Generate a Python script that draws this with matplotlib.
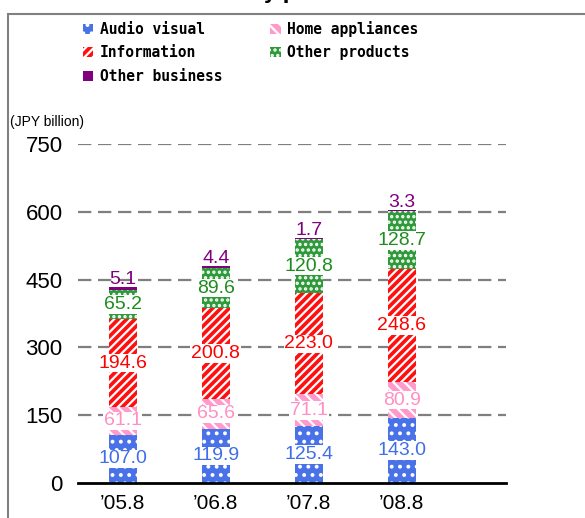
import numpy as np
import matplotlib
matplotlib.use("Agg")
import matplotlib.pyplot as plt
from matplotlib.patches import Rectangle, Patch

# data (JPY billion)
periods = ["\u201905.8", "\u201906.8", "\u201907.8", "\u201908.8"]
audio_visual = [107.0, 119.9, 125.4, 143.0]
home_appliances = [61.1, 65.6, 71.1, 80.9]
information = [194.6, 200.8, 223.0, 248.6]
other_products = [65.2, 89.6, 120.8, 128.7]
other_business = [5.1, 4.4, 1.7, 3.3]
yticks = [0, 150, 300, 450, 600, 750]

series = [
    ("Audio visual", audio_visual, "#4a72e8", "..", "#3f6fe6"),
    ("Home appliances", home_appliances, "#ff9acb", "\\\\\\", "#ff8fc4"),
    ("Information", information, "#ff1010", "////", "#ff0000"),
    ("Other products", other_products, "#2e9a3a", "...", "#1e8c1e"),
    ("Other business", other_business, "#800080", None, "#800080"),
]

plt.rcParams["hatch.linewidth"] = 1.6
W, H = 585, 518
fig = plt.figure(figsize=(W / 100, H / 100), dpi=100)
ax = fig.add_axes([78 / W, (H - 483) / H, (506 - 78) / W, (483 - 144) / H])

x = np.arange(len(periods))
bottom = np.zeros(len(periods))
handles = []
for name, vals, col, hatch, tcol in series:
    vals = np.array(vals)
    ax.bar(x, vals, 0.3, bottom=bottom, color=col, hatch=hatch,
           edgecolor="white" if hatch else col, linewidth=0, zorder=2)
    handles.append(Patch(facecolor=col, hatch=hatch,
                         edgecolor="white" if hatch else col, linewidth=0))
    for i, v in enumerate(vals):
        if name == "Other business":
            ax.text(x[i], bottom[i] + v - 2, f"{v:.1f}", ha="center", va="bottom",
                    color=tcol, fontsize=14, family="Liberation Sans", zorder=4)
        else:
            ax.text(x[i], bottom[i] + v / 2, f"{v:.1f}", ha="center", va="center",
                    color=tcol, fontsize=14, family="Liberation Sans", zorder=4,
                    bbox=dict(facecolor="white", edgecolor="none", pad=0.5))
    bottom = bottom + vals

ax.set_xlim(-0.48, 4.12)
ax.set_ylim(0, 750)
ax.set_yticks(yticks)
ax.set_yticklabels([str(t) for t in yticks], family="Liberation Sans", fontsize=16)
ax.set_xticks(x)
ax.set_xticklabels(periods, family="Liberation Sans", fontsize=15)
ax.tick_params(axis="y", length=0, pad=11)
ax.tick_params(axis="x", length=0, pad=8)
for t in yticks[1:]:
    ax.axhline(t, color="#7f7f7f", lw=1.6, ls=(0, (6, 3)), zorder=1)
for s in ["top", "right", "left"]:
    ax.spines[s].set_visible(False)
ax.spines["bottom"].set_linewidth(2)
ax.spines["bottom"].set_zorder(5)

order = [0, 2, 4, 1, 3]
fig.legend([handles[i] for i in order], [series[i][0] for i in order],
           loc="upper left", bbox_to_anchor=(83 / W, 1 - 21 / H), ncol=2,
           frameon=False, prop={"family": "DejaVu Sans Mono", "weight": "bold", "size": 10.5},
           handlelength=0.7, handleheight=0.7, handletextpad=0.45,
           columnspacing=3.3, labelspacing=0.58, borderpad=0, borderaxespad=0)

fig.text(10 / W, 1 - 122 / H, "(JPY billion)", ha="left", va="center",
         fontsize=10, family="Liberation Sans")
# title sits mostly above the top edge, as in the original crop
fig.text(300 / W, 1 + 1 / H, "Sales by product line", ha="center", va="baseline",
         fontsize=14, weight="bold")
fig.patches.append(Rectangle((8 / W, -0.1), 2, 1 - 14 / H + 0.1, transform=fig.transFigure,
                             fill=False, edgecolor="#808080", lw=1.5))

fig.savefig("out.png", dpi=100)
